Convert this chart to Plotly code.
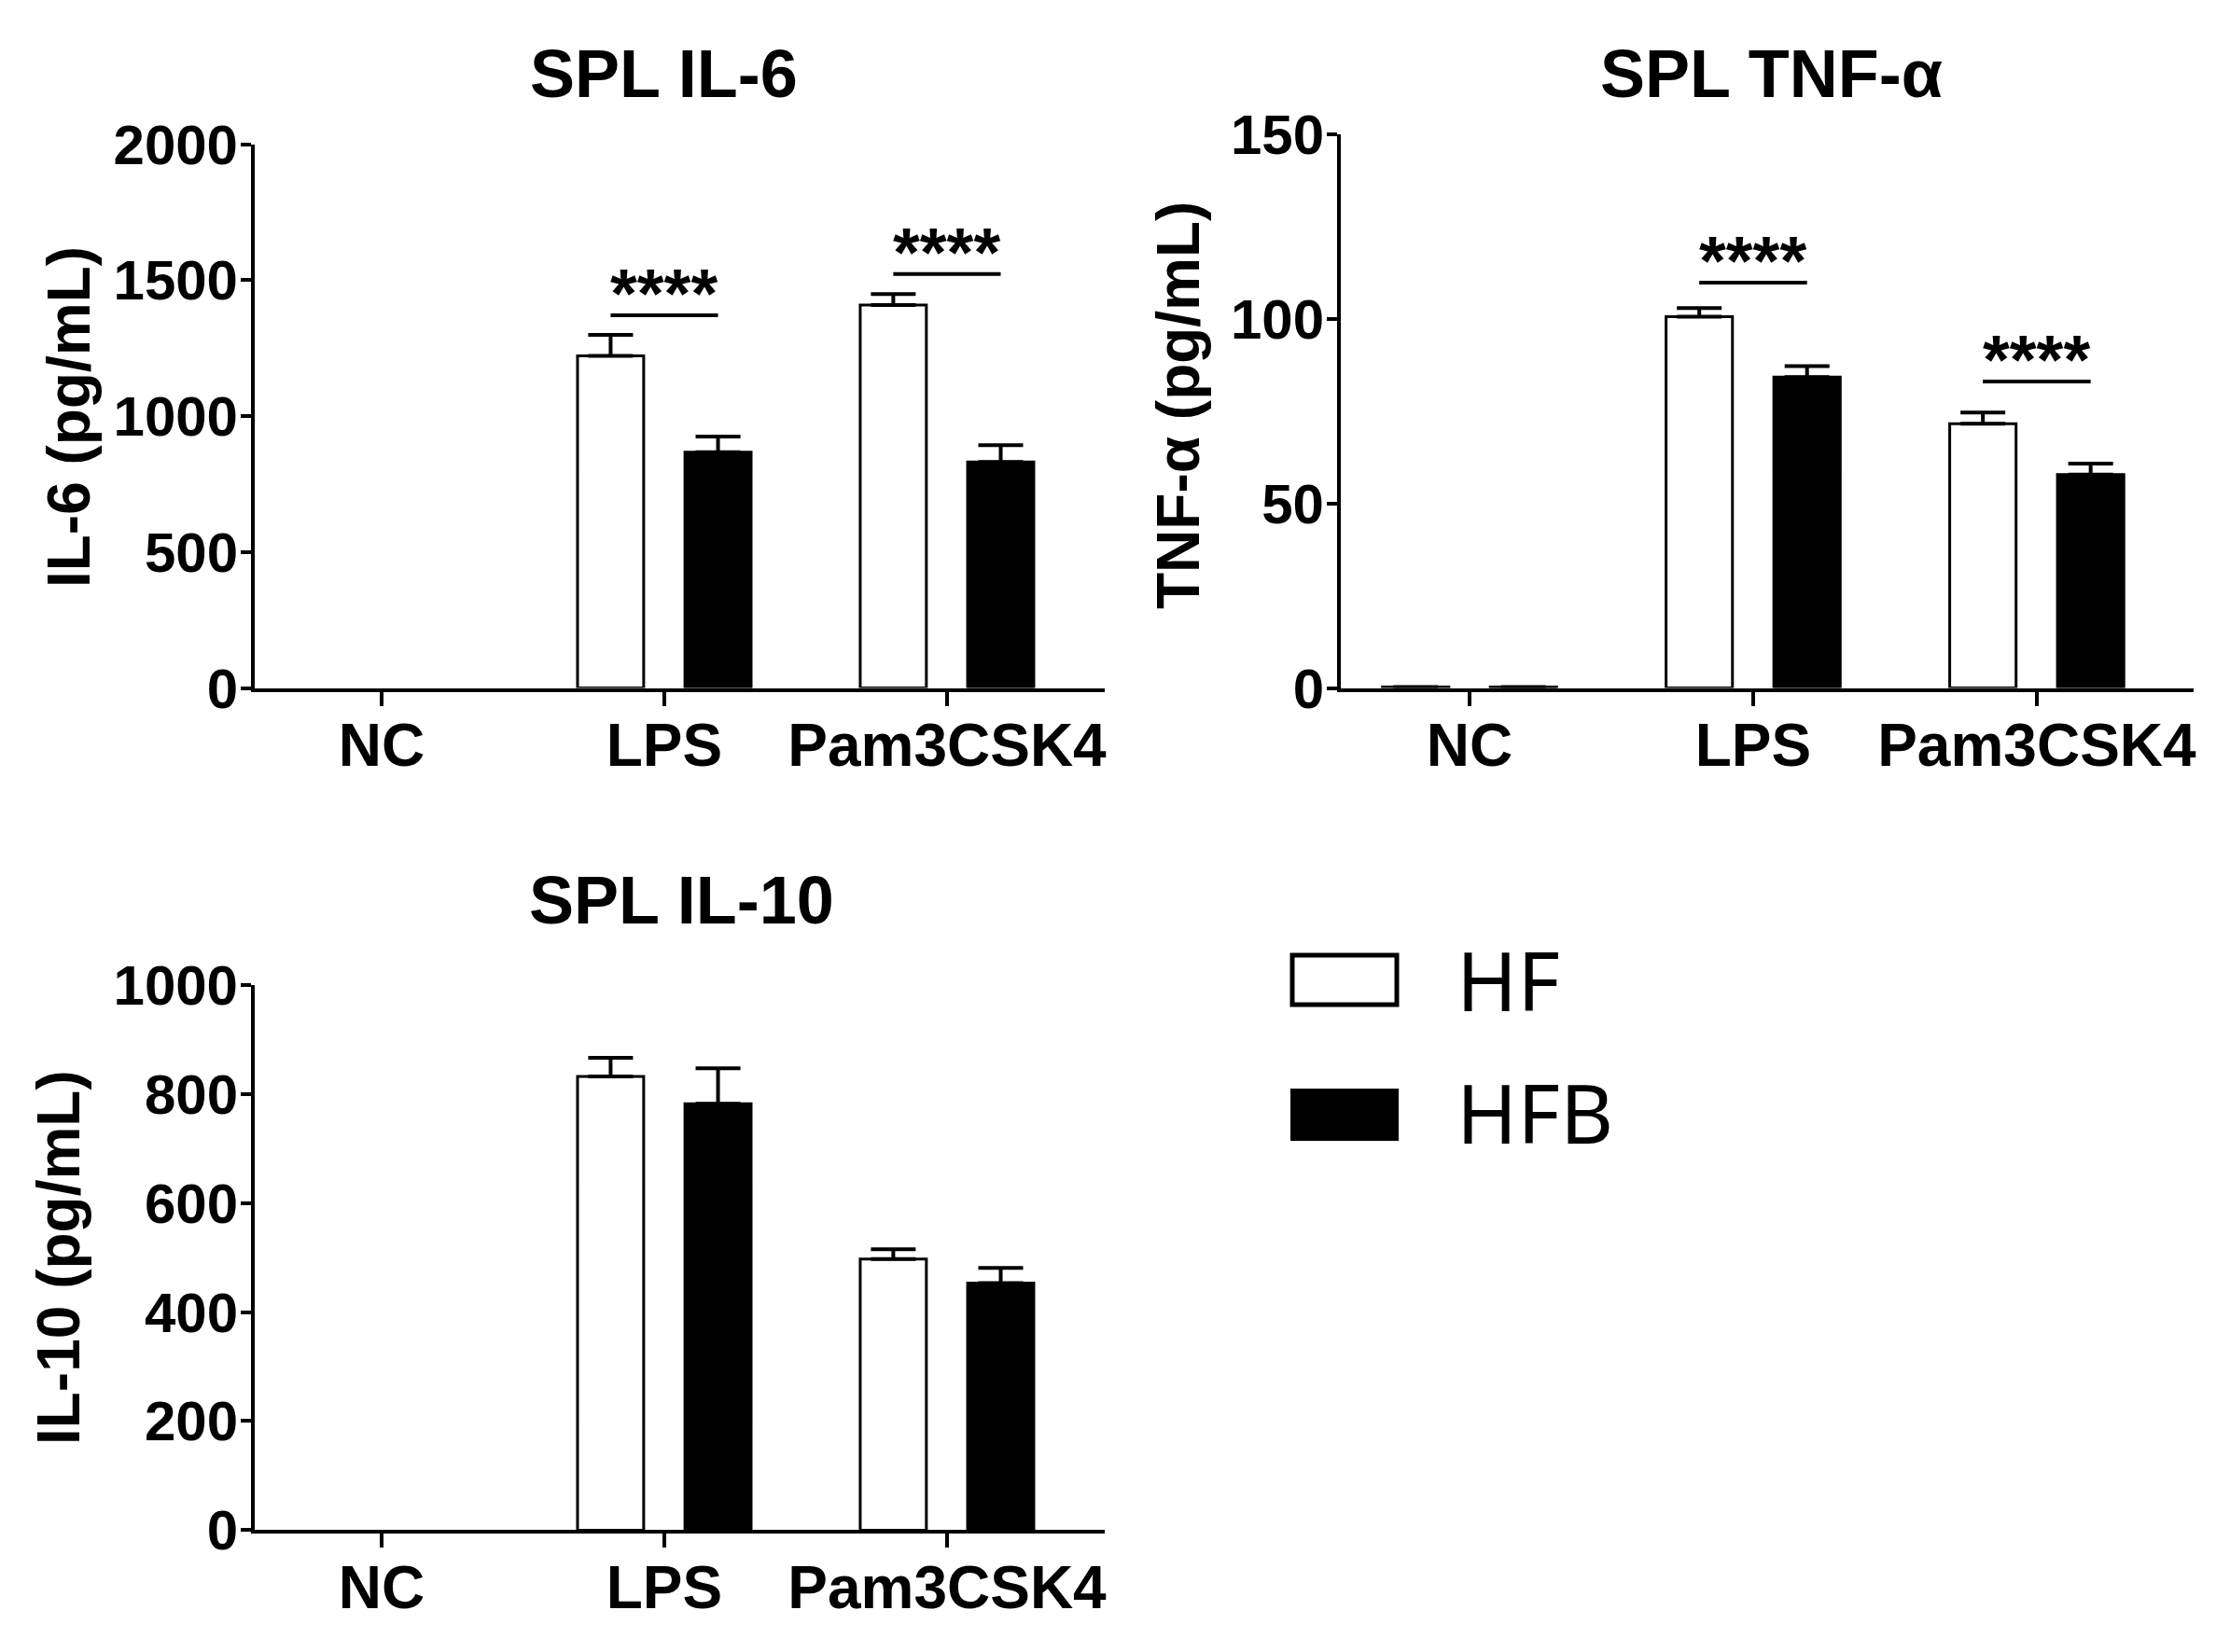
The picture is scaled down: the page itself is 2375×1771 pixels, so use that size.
import plotly.graph_objects as go

# ---------------- data ----------------
categories = ["NC", "LPS", "Pam3CSK4"]
cat_pos = [0, 1, 2]
groups = ["HF", "HFB"]

il6_hf = [None, 1221, 1408]
il6_hf_err = [0, 78, 41]
il6_hfb = [None, 867, 831]
il6_hfb_err = [0, 58, 62]

tnf_hf = [0.3, 100.6, 71.6]
tnf_hf_err = [0, 2.3, 3.0]
tnf_hfb = [0.3, 84.2, 57.8]
tnf_hfb_err = [0, 3.0, 3.0]

il10_hf = [None, 832, 497]
il10_hf_err = [0, 34, 18]
il10_hfb = [None, 782, 453]
il10_hfb_err = [0, 65, 28]

il6_sig_pos = [1, 2]
il6_sig_y = [1371, 1522]
il6_sig_txt = ["****", "****"]
tnf_sig_pos = [1, 2]
tnf_sig_y = [109.8, 83]
tnf_sig_txt = ["****", "****"]

titles = ["SPL IL-6", "SPL TNF-α", "SPL IL-10"]
ytitles = ["IL-6 (pg/mL)", "TNF-α (pg/mL)", "IL-10 (pg/mL)"]
il6_ticks = [0, 500, 1000, 1500, 2000]
tnf_ticks = [0, 50, 100, 150]
il10_ticks = [0, 200, 400, 600, 800, 1000]

# ---------------- style ----------------
W, H = 2375, 1771
PAGE_OFF_X = 5
PAGE_OFF_Y = 8
FONT = "Liberation Sans, Arial, sans-serif"
BW = 0.234
OFF = 0.19
black = "#000000"

fig = go.Figure()

panels = [
    ("x", "y", il6_hf, il6_hf_err, il6_hfb, il6_hfb_err),
    ("x2", "y2", tnf_hf, tnf_hf_err, tnf_hfb, tnf_hfb_err),
    ("x3", "y3", il10_hf, il10_hf_err, il10_hfb, il10_hfb_err),
]

for xa, ya, hf, hfe, hfb, hfbe in panels:
    for vals, errs, fill, off, name in [(hf, hfe, "white", -OFF, "HF"), (hfb, hfbe, black, OFF, "HFB")]:
        fig.add_trace(go.Bar(
            x=cat_pos, y=vals, xaxis=xa, yaxis=ya, name=name, showlegend=False,
            width=BW, offset=off - BW / 2,
            marker=dict(color=fill, line=dict(color=black, width=3)),
            error_y=dict(type="data", array=errs, arrayminus=[0] * len(errs), symmetric=False,
                         color=black, thickness=4, width=24),
        ))

for xa, ya, pos, ys in [("x", "y", il6_sig_pos, il6_sig_y), ("x2", "y2", tnf_sig_pos, tnf_sig_y)]:
    for p, v in zip(pos, ys):
        fig.add_trace(go.Scatter(x=[p - OFF, p + OFF], y=[v, v], xaxis=xa, yaxis=ya, mode="lines",
                                 line=dict(color=black, width=4), showlegend=False, hoverinfo="skip"))

annotations = []
for xa, ya, pos, ys, txt in [("x", "y", il6_sig_pos, il6_sig_y, il6_sig_txt),
                             ("x2", "y2", tnf_sig_pos, tnf_sig_y, tnf_sig_txt)]:
    for p, v, t in zip(pos, ys, txt):
        annotations.append(dict(x=p, y=v, xref=xa, yref=ya, text=t, showarrow=False,
                                yanchor="bottom", yshift=-20,
                                font=dict(family=FONT, size=74, color=black, weight="bold")))

def px_x(v):
    return (v - PAGE_OFF_X) / W

def px_y(v):
    return 1 - (v - PAGE_OFF_Y) / H

axis_common = dict(showline=True, linewidth=4, linecolor=black, showgrid=False, zeroline=False,
                   ticks="outside", tickwidth=4, tickcolor=black, automargin=False)
xfont = dict(family=FONT, size=64, color=black, weight="bold")
yfont = dict(family=FONT, size=60, color=black, weight="bold")
xax = dict(tickvals=cat_pos, ticktext=categories, ticklen=15, tickfont=xfont,
           ticklabelstandoff=-12, **axis_common)
yax = dict(ticklen=11, tickfont=yfont, ticklabelstandoff=-9, **axis_common)

layout = dict(
    template="none",
    width=W, height=H, margin=dict(l=0, r=0, t=0, b=0, pad=0), autosize=False,
    plot_bgcolor="white", paper_bgcolor="white", showlegend=False,
    xaxis=dict(domain=[px_x(270), px_x(1181)], range=[-0.449, 2.558], anchor="y", **xax),
    yaxis=dict(domain=[px_y(737.6), px_y(154.5)], range=[0, 2000], anchor="x",
               tickvals=il6_ticks, **yax),
    xaxis2=dict(domain=[px_x(1434), px_x(2348)], range=[-0.454, 2.553], anchor="y2", **xax),
    yaxis2=dict(domain=[px_y(737.6), px_y(143.9)], range=[0, 150], anchor="x2",
                tickvals=tnf_ticks, **yax),
    xaxis3=dict(domain=[px_x(270), px_x(1181)], range=[-0.449, 2.558], anchor="y3", **xax),
    yaxis3=dict(domain=[px_y(1640.4), px_y(1055.7)], range=[0, 1000], anchor="x3",
                tickvals=il10_ticks, **yax),
)

title_font = dict(family=FONT, size=72, color=black, weight="bold")
for t, (cx, cy) in zip(titles, [(708, 79), (1895, 79), (727, 965)]):
    annotations.append(dict(x=px_x(cx), y=px_y(cy), xref="paper", yref="paper", text=t,
                            showarrow=False, xanchor="center", yanchor="middle", font=title_font))

for t, (cx, cy) in zip(ytitles, [(71, 447), (1260, 435), (60, 1348)]):
    annotations.append(dict(x=px_x(cx), y=px_y(cy), xref="paper", yref="paper", text=t,
                            showarrow=False, textangle=-90, xanchor="center", yanchor="middle",
                            font=dict(family=FONT, size=64, color=black, weight="bold")))

# legend (drawn manually)
shapes = [
    dict(type="rect", xref="paper", yref="paper", x0=px_x(1382), x1=px_x(1494),
         y0=px_y(1077), y1=px_y(1024), fillcolor="white", line=dict(color=black, width=5)),
    dict(type="rect", xref="paper", yref="paper", x0=px_x(1380), x1=px_x(1496),
         y0=px_y(1223), y1=px_y(1167), fillcolor=black, line=dict(color=black, width=0)),
]
leg_font = dict(family="Noto Sans, DejaVu Sans, sans-serif", size=88, color=black)
for g, cy in zip(groups, [1050, 1192]):
    annotations.append(dict(x=px_x(1556), y=px_y(cy), xref="paper", yref="paper", text=g,
                            showarrow=False, xanchor="left", yanchor="middle", font=leg_font))

layout["annotations"] = annotations
layout["shapes"] = shapes
fig.update_layout(**layout)
fig.write_html("out.html")
